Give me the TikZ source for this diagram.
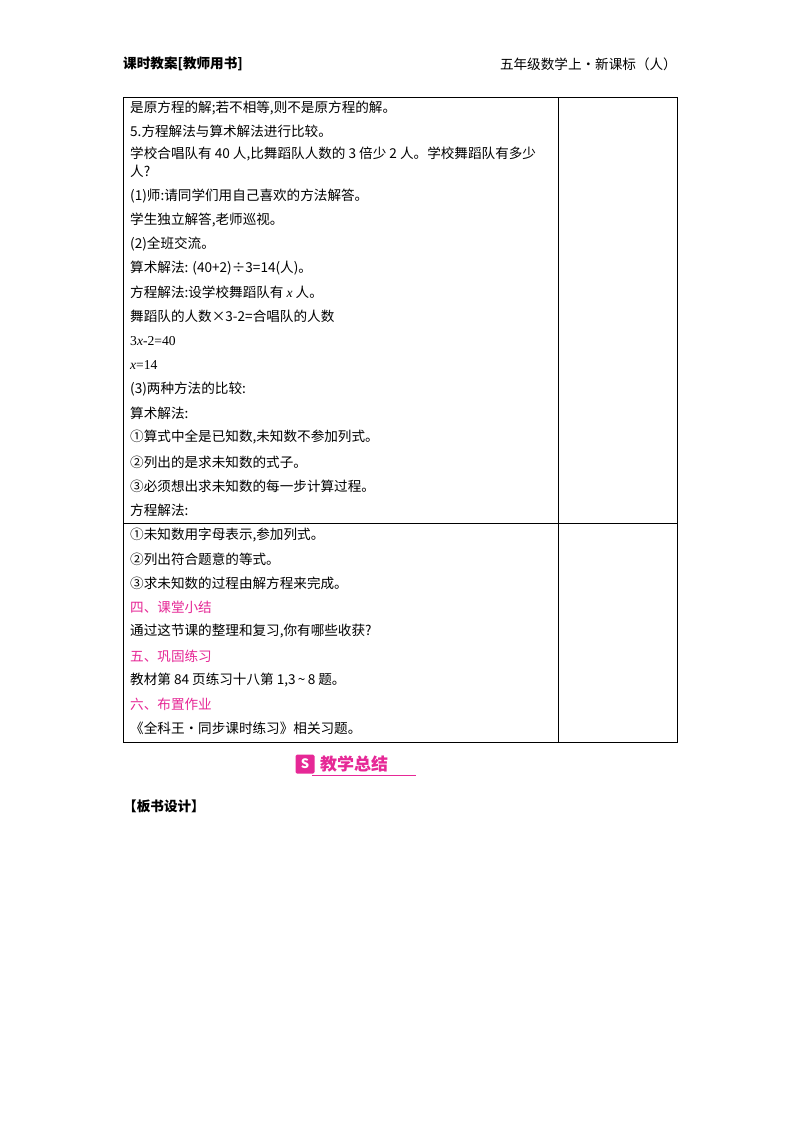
\documentclass[tikz,border=0pt]{standalone}
\usepackage{fontspec}
\setmainfont{Noto Sans CJK SC}
\newfontfamily\latinf{Liberation Serif}
\definecolor{mag}{RGB}{230,40,150}
\begin{document}
\begin{tikzpicture}[x=1pt,y=-1pt,
  ln/.style={anchor=west,font=\fontsize{13.6}{13.6}\selectfont,inner sep=0pt},
  hd/.style={ln,text=mag},
  tbl/.style={line width=0.9pt}]
\useasboundingbox[fill=white] (0,0) rectangle (800,1132);
\node[ln,font=\fontsize{13.6}{13.6}\selectfont\bfseries] (h1) at (123,64) {课时教案[教师用书]};
\node[anchor=east,inner sep=0pt,font=\fontsize{13.6}{13.6}\selectfont] (h2) at (677,64) {五年级数学上·新课标（人）};
\draw[tbl] (123,97) rectangle (677,742);
\draw[tbl] (558,97) -- (558,742);
\draw[tbl] (123,523) -- (677,523);
\node[ln] (l1) at (130,108) {是原方程的解;若不相等,则不是原方程的解。};
\node[ln] (l2) at (130,131) {5.方程解法与算术解法进行比较。};
\node[ln] (l3) at (130,154) {学校合唱队有 40 人,比舞蹈队人数的 3 倍少 2 人。学校舞蹈队有多少};
\node[ln] (l3b) at (130,171) {人?};
\node[ln] (l4) at (130,196) {(1)师:请同学们用自己喜欢的方法解答。};
\node[ln] (l5) at (130,220) {学生独立解答,老师巡视。};
\node[ln] (l6) at (130,244) {(2)全班交流。};
\node[ln] (l7) at (130,268) {算术解法: (40+2)÷3=14(人)。};
\node[ln] (l8) at (130,292) {方程解法:设学校舞蹈队有 {\latinf\itshape x} 人。};
\node[ln] (l9) at (130,316) {舞蹈队的人数×3-2=合唱队的人数};
\node[ln] (l10) at (130,341) {{\latinf 3\itshape x\upshape-2=40}};
\node[ln] (l11) at (130,365) {{\latinf\itshape x\upshape=14}};
\node[ln] (l12) at (130,389) {(3)两种方法的比较:};
\node[ln] (l13) at (130,413) {算术解法:};
\node[ln] (l14) at (130,437) {①算式中全是已知数,未知数不参加列式。};
\node[ln] (l15) at (130,462) {②列出的是求未知数的式子。};
\node[ln] (l16) at (130,486) {③必须想出求未知数的每一步计算过程。};
\node[ln] (l17) at (130,510) {方程解法:};
\node[ln] (l18) at (130,535) {①未知数用字母表示,参加列式。};
\node[ln] (l19) at (130,559) {②列出符合题意的等式。};
\node[ln] (l20) at (130,583) {③求未知数的过程由解方程来完成。};
\node[hd] (l21) at (130,607) {四、课堂小结};
\node[ln] (l22) at (130,631) {通过这节课的整理和复习,你有哪些收获?};
\node[hd] (l23) at (130,656) {五、巩固练习};
\node[ln] (l24) at (130,680) {教材第 84 页练习十八第 1,3\,\textasciitilde\,8 题。};
\node[hd] (l25) at (130,704) {六、布置作业};
\node[ln] (l26) at (130,728) {《全科王·同步课时练习》相关习题。};
\node[fill=mag,minimum size=19pt,inner sep=0pt,rounded corners=1.5pt,text=white,font=\bfseries\fontsize{13}{13}\selectfont] (ic) at (305,764) {S};
\node[anchor=west,inner sep=0pt,text=mag,font=\bfseries\fontsize{17}{17}\selectfont] (bt) at (320,764) {教学总结};
\draw[mag,line width=0.8pt] (312,775) -- (416,775);
\node[ln,font=\fontsize{13.6}{13.6}\selectfont\bfseries] (bs) at (123,806) {【板书设计】};
\end{tikzpicture}
\end{document}
